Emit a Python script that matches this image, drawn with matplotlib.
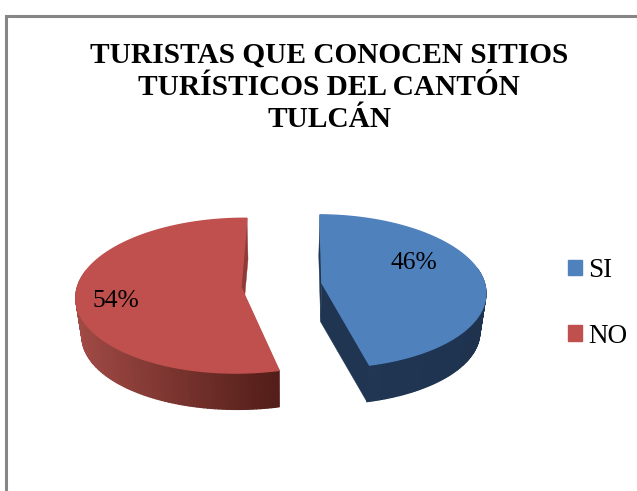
import numpy as np
import matplotlib
matplotlib.use("Agg")
import matplotlib.pyplot as plt
from matplotlib.collections import PolyCollection
from matplotlib.patches import Patch, Polygon

title = "TURISTAS QUE CONOCEN SITIOS\nTURÍSTICOS DEL CANTÓN\nTULCÁN"
categories = ["SI", "NO"]
values = [46, 54]
top_colors = ["#4F81BD", "#C0504D"]

# side wall shade at the left and right end of the pie
side_left = [(0.13, 0.22, 0.33), (0.63, 0.29, 0.27)]
side_right = [(0.12, 0.20, 0.31), (0.33, 0.12, 0.10)]
cut_colors = ["#1F3552", "#8E3A37"]

# pie projection, in pixels of the figure
xc, yc = 281.5, 285
A, B, k = 163, 76, 0.11
explode = 0.25
depth = 39
shrink = 0.97
start_angle = 0.8

label_pos = [(414, 263), (116, 301)]


def project(theta, r, off_x, off_v):
    x = r * np.sin(theta) + off_x
    v = r * np.cos(theta) + off_v
    den = 1 + k * v
    return xc + A * x / den, yc - B * v / den


def lower(sx, sy):
    return xc + (sx - xc) * shrink, yc + (sy - yc) * shrink + depth


fig = plt.figure(figsize=(6.37, 4.91), dpi=100)
ax = fig.add_axes([0, 0, 1, 1])
ax.set_xlim(0, 637)
ax.set_ylim(491, 0)
ax.axis("off")

# chart frame, only top and left fall inside the picture
ax.plot([6, 6, 637], [491, 16, 16], color="#868686", lw=2.2, solid_joinstyle="miter")

ax.text(329, 87.5, title, family="Liberation Serif", weight="bold", fontsize=21.2,
        ha="center", va="center", linespacing=1.24)

fractions = np.array(values) / sum(values)
edges = np.radians(start_angle + 360 * np.concatenate([[0], np.cumsum(fractions)]))

for i in range(len(values)):
    t0, t1 = edges[i], edges[i + 1]
    mid = (t0 + t1) / 2
    off_x, off_v = explode * np.sin(mid), explode * np.cos(mid)
    theta = np.linspace(t0, t1, 160)
    sx, sy = project(theta, 1.0, off_x, off_v)
    bx, by = lower(sx, sy)
    ax_, ay_ = project(0.0, 0.0, off_x, off_v)
    bax, bay = lower(ax_, ay_)

    # cut faces
    for j in (0, -1):
        ax.add_patch(Polygon([(ax_, ay_), (sx[j], sy[j]), (bx[j], by[j]), (bax, bay)],
                             closed=True, fc=cut_colors[i], ec=cut_colors[i], lw=0.3))

    # outer wall as thin quads so it can carry the shading, the back part is never seen
    quads = []
    shades = []
    left, right = xc - 206, xc + 206
    for n in range(len(theta) - 1):
        if np.cos(theta[n]) > 0.2:
            continue
        quads.append([(sx[n], sy[n]), (sx[n + 1], sy[n + 1]), (bx[n + 1], by[n + 1]), (bx[n], by[n])])
        pos = np.clip((sx[n] - left) / (right - left), 0, 1)
        if i == 1:
            pos = np.clip(pos / 0.48, 0, 1)
        else:
            pos = np.clip((pos - 0.48) / 0.52, 0, 1)
        shades.append(tuple((1 - pos) * a + pos * b for a, b in zip(side_left[i], side_right[i])))
    ax.add_collection(PolyCollection(quads, facecolors=shades, edgecolors=shades, linewidths=0.9))

    # top surface, its edge covers the wall strokes along the rim
    ax.add_patch(Polygon(np.column_stack([np.r_[ax_, sx], np.r_[ay_, sy]]), closed=True,
                         fc=top_colors[i], ec=top_colors[i], lw=1.0))

    ax.text(label_pos[i][0], label_pos[i][1], f"{values[i]}%", family="Liberation Serif",
            fontsize=18.4, ha="center", va="center", color="black")

handles = [Patch(facecolor=c, edgecolor=c, label=n) for c, n in zip(top_colors, categories)]
ax.legend(handles=handles, loc="upper left", bbox_to_anchor=(568 / 637, 1 - 258 / 491),
          frameon=False, prop={"family": "Liberation Serif", "size": 19.5},
          handlelength=0.52, handleheight=0.52, handletextpad=0.22, labelspacing=1.5,
          borderpad=0, borderaxespad=0)

fig.savefig("out.png", dpi=100)
